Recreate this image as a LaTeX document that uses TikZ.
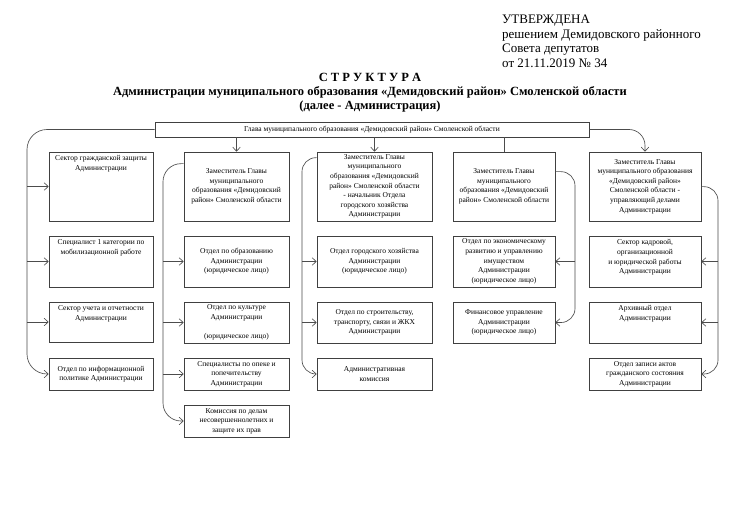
\documentclass[tikz,border=0pt]{standalone}
\usepackage{fontspec}
\setmainfont{Liberation Serif}
\usetikzlibrary{arrows.meta}
\tikzset{
  boxst/.style={draw=black!75, line width=0.7pt, rectangle, inner sep=0pt, font=\fontsize{7.5}{9.6}\selectfont},
  ln/.style={draw=black!70, line width=0.65pt},
  arr/.style={ln, -{Straight Barb[length=4pt,width=7.5pt]}},
}
\newcommand{\bx}[7]{%
  \node[boxst, minimum width={#4-#2}, minimum height={#5-#3}] (#1) at ({(#2+#4)/2},{(#3+#5)/2})
  {\parbox[c][\dimexpr #5pt-#3pt-3pt\relax][#6]{\dimexpr #4pt-#2pt-4pt\relax}{\centering\if t#6\vspace*{2.2pt}\fi #7\par}};}
\begin{document}
\begin{tikzpicture}[x=1pt,y=-1pt]
\fill[white] (0,0) rectangle (750,530);
\useasboundingbox (0,0) rectangle (750,530);
% header
\node[anchor=north west, align=left, font=\fontsize{13}{14.5}\selectfont, inner sep=0pt] (hdr) at (502,15)
 {УТВЕРЖДЕНА\\решением Демидовского районного\\Совета депутатов\\от 21.11.2019 № 34};
\node[align=center, font=\bfseries\fontsize{12.5}{14}\selectfont, inner sep=0pt] (ttl) at (370,93)
 {С Т Р У К Т У Р А\\Администрации муниципального образования «Демидовский район» Смоленской области\\(далее - Администрация)};
% top box
\bx{top}{155}{122}{589}{137}{c}{Глава муниципального образования «Демидовский район» Смоленской области}
% column 1
\bx{c1a}{49}{152}{153}{221}{t}{Сектор гражданской защиты\\Администрации}
\bx{c1b}{49}{236}{153}{287}{t}{Специалист 1 категории по\\мобилизационной работе}
\bx{c1c}{49}{302}{153}{342}{t}{Сектор учета и отчетности\\Администрации}
\bx{c1d}{49}{358}{153}{390}{c}{Отдел по информационной\\политике Администрации}
% column 2
\bx{c2h}{184}{152}{289}{221}{c}{Заместитель Главы\\муниципального\\образования «Демидовский\\район» Смоленской области}
\bx{c2b}{184}{236}{289}{287}{c}{Отдел по образованию\\Администрации\\(юридическое лицо)}
\bx{c2c}{184}{302}{289}{343}{c}{Отдел по культуре\\Администрации\\\mbox{}\\(юридическое лицо)}
\bx{c2d}{184}{358}{289}{390}{c}{Специалисты по опеке и\\попечительству\\Администрации}
\bx{c2e}{184}{405}{289}{437}{c}{Комиссия по делам\\несовершеннолетних и\\защите их прав}
% column 3
\bx{c3h}{317}{152}{432}{221}{c}{Заместитель Главы\\муниципального\\образования «Демидовский\\район» Смоленской области\\- начальник Отдела\\городского хозяйства\\Администрации}
\bx{c3b}{317}{236}{432}{287}{c}{Отдел городского хозяйства\\Администрации\\(юридическое лицо)}
\bx{c3c}{317}{302}{432}{343}{c}{Отдел по строительству,\\транспорту, связи и ЖКХ\\Администрации}
\bx{c3d}{317}{358}{432}{390}{c}{Административная\\комиссия}
% column 4
\bx{c4h}{453}{152}{555}{221}{c}{Заместитель Главы\\муниципального\\образования «Демидовский\\район» Смоленской области}
\bx{c4b}{453}{236}{555}{287}{c}{Отдел по экономическому\\развитию и управлению\\имуществом\\Администрации\\(юридическое лицо)}
\bx{c4c}{453}{302}{555}{343}{c}{Финансовое управление\\Администрации\\(юридическое лицо)}
% column 5
\bx{c5h}{589}{152}{701}{221}{c}{Заместитель Главы\\муниципального образования\\«Демидовский район»\\Смоленской области -\\управляющий делами\\Администрации}
\bx{c5b}{589}{236}{701}{287}{t}{Сектор кадровой,\\организационной\\и юридической работы\\Администрации}
\bx{c5c}{589}{302}{701}{343}{t}{Архивный отдел\\Администрации}
\bx{c5d}{589}{358}{701}{390}{c}{Отдел записи актов\\гражданского состояния\\Администрации}
% bracket lines
\coordinate (b1) at (27,0);
\coordinate (b2) at (163,0);
\coordinate (b3) at (302,0);
\coordinate (b4) at (575,0);
\coordinate (b5) at (718,0);
\coordinate (s2) at ([yshift=-12pt]c2h.north west);
\coordinate (s3) at ([yshift=-6pt]c3h.north west);
\coordinate (s4) at ([yshift=-20pt]c4h.north east);
\coordinate (s5) at ([yshift=-35pt]c5h.north east);
% top connectors
\draw[arr] (top.south -| c2h.north) -- (c2h.north);
\draw[arr] (top.south -| c3h.north) -- (c3h.north);
\draw[ln] (top.south -| c4h.north) -- (c4h.north);
\draw[arr, rounded corners=16pt] (top.east) -- (top.east -| c5h.north) -- (c5h.north);
% column 1
\draw[arr, rounded corners=20pt] (top.west) -- (top.west -| b1) -- (b1 |- c1d.west) -- (c1d.west);
\foreach \n in {c1a,c1b,c1c} \draw[arr] (b1 |- \n.west) -- (\n.west);
% column 2
\draw[arr, rounded corners=18pt] (s2) -- (s2 -| b2) -- (b2 |- c2e.west) -- (c2e.west);
\foreach \n in {c2b,c2c,c2d} \draw[arr] (b2 |- \n.west) -- (\n.west);
% column 3
\draw[arr, rounded corners=14pt] (s3) -- (s3 -| b3) -- (b3 |- c3d.west) -- (c3d.west);
\foreach \n in {c3b,c3c} \draw[arr] (b3 |- \n.west) -- (\n.west);
% column 4
\draw[arr, rounded corners=14pt] (s4) -- (s4 -| b4) -- (b4 |- c4c.east) -- (c4c.east);
\draw[arr] (b4 |- c4b.east) -- (c4b.east);
% column 5
\draw[arr, rounded corners=14pt] (s5) -- (s5 -| b5) -- (b5 |- c5d.east) -- (c5d.east);
\foreach \n in {c5b,c5c} \draw[arr] (b5 |- \n.east) -- (\n.east);
\end{tikzpicture}
\end{document}
